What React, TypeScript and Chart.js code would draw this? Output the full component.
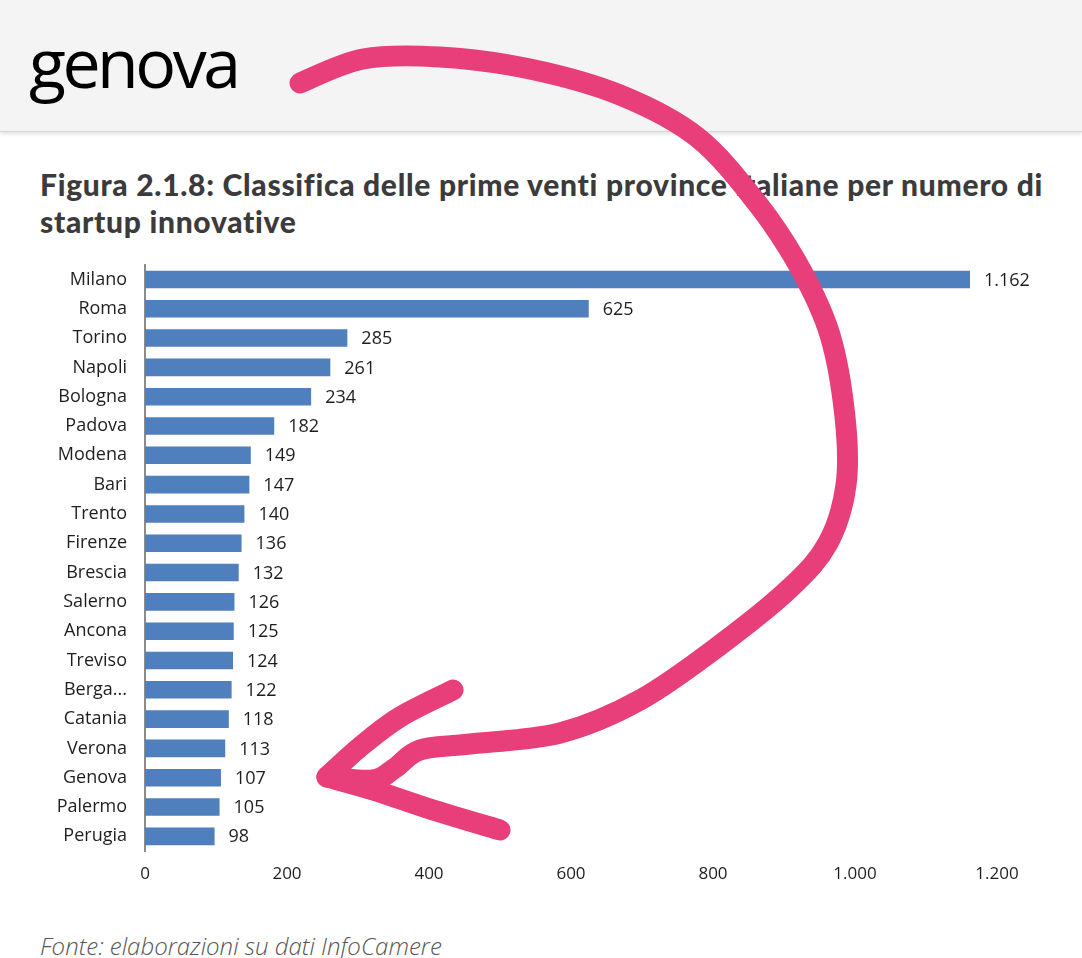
import React, { useEffect, useRef } from "react";
import { Chart, registerables } from "chart.js";

Chart.register(...registerables);

const provinces = [
  "Milano", "Roma", "Torino", "Napoli", "Bologna", "Padova", "Modena", "Bari",
  "Trento", "Firenze", "Brescia", "Salerno", "Ancona", "Treviso", "Berga...",
  "Catania", "Verona", "Genova", "Palermo", "Perugia",
];
const startups = [1162, 625, 285, 261, 234, 182, 149, 147, 140, 136, 132, 126, 125, 124, 122, 118, 113, 107, 105, 98];
const xMin = 0;
const xMax = 1200;
const xStep = 200;

const fmt = (n: number) => String(n).replace(/\B(?=(\d{3})+(?!\d))/g, ".");

// hand-drawn arrow annotation (decoration, not data)
const arrowMain: [number, number][] = [
  [300, 83], [363, 59], [440, 57], [530, 69], [620, 95], [697, 137], [757, 203],
  [800, 268], [830, 335], [845, 417], [846, 485], [828, 543], [790, 588], [720, 645],
  [640, 700], [560, 733], [470, 744], [420, 750], [395, 768], [373, 780], [327, 777],
];
const arrowUpper: [number, number][] = [[327, 777], [360, 747], [400, 717], [453, 690]];
const arrowLower: [number, number][] = [[327, 777], [373, 790], [433, 810], [500, 830]];

function smoothPath(pts: [number, number][]) {
  let d = `M${pts[0][0]},${pts[0][1]}`;
  for (let i = 0; i < pts.length - 1; i++) {
    const p0 = pts[i - 1] || pts[i];
    const p1 = pts[i];
    const p2 = pts[i + 1];
    const p3 = pts[i + 2] || p2;
    const c1x = p1[0] + (p2[0] - p0[0]) / 6;
    const c1y = p1[1] + (p2[1] - p0[1]) / 6;
    const c2x = p2[0] - (p3[0] - p1[0]) / 6;
    const c2y = p2[1] - (p3[1] - p1[1]) / 6;
    d += ` C${c1x},${c1y} ${c2x},${c2y} ${p2[0]},${p2[1]}`;
  }
  return d;
}

const valueLabels = {
  id: "valueLabels",
  afterDatasetsDraw(chart: any) {
    const ctx = chart.ctx;
    const meta = chart.getDatasetMeta(0);
    const data = chart.data.datasets[0].data as number[];
    ctx.save();
    ctx.font = "18px 'Open Sans'";
    ctx.fillStyle = "#1e1e1e";
    ctx.textAlign = "left";
    ctx.textBaseline = "middle";
    meta.data.forEach((bar: any, i: number) => {
      ctx.fillText(fmt(data[i]), bar.x + 14, bar.y + 1);
    });
    ctx.restore();
  },
};

export default function App() {
  const canvasRef = useRef<HTMLCanvasElement | null>(null);

  useEffect(() => {
    document.body.style.margin = "0";
    const chart = new Chart(canvasRef.current as HTMLCanvasElement, {
      type: "bar",
      data: {
        labels: provinces,
        datasets: [
          {
            data: startups,
            backgroundColor: "#4f7fbd",
            borderWidth: 0,
            barPercentage: 0.6,
            categoryPercentage: 1,
          },
        ],
      },
      options: {
        indexAxis: "y",
        animation: false,
        responsive: true,
        maintainAspectRatio: false,
        layout: { padding: { top: 0, right: 85, bottom: 0, left: 0 } },
        plugins: { legend: { display: false }, tooltip: { enabled: false } },
        scales: {
          x: {
            min: xMin,
            max: xMax,
            grid: { display: false, drawTicks: false },
            border: { display: false },
            ticks: {
              stepSize: xStep,
              padding: 13,
              color: "#1e1e1e",
              font: { family: "'Open Sans'", size: 17 },
              callback: (v: any) => fmt(Number(v)),
              maxRotation: 0,
            },
            afterFit: (s: any) => {
              s.height = 40;
            },
          },
          y: {
            grid: { display: false, drawTicks: false },
            border: { display: true, color: "#8c8c8c", width: 2 },
            ticks: {
              padding: 18,
              color: "#1e1e1e",
              font: { family: "'Open Sans'", size: 18 },
              autoSkip: false,
            },
            afterFit: (s: any) => {
              s.width = 145;
            },
          },
        },
      },
      plugins: [valueLabels],
    });
    return () => chart.destroy();
  }, []);

  return (
    <div style={{ position: "relative", width: 1082, height: 958, background: "#fff", overflow: "hidden" }}>
      <div
        style={{
          position: "absolute",
          left: 0,
          top: 0,
          width: 1082,
          height: 131,
          background: "#f4f4f4",
          borderBottom: "1px solid #d6d6d6",
          boxShadow: "0 2px 4px rgba(0,0,0,0.12)",
        }}
      />
      <div
        style={{
          position: "absolute",
          left: 29,
          top: 28,
          fontFamily: "'Open Sans', sans-serif",
          fontSize: 68,
          lineHeight: 1,
          letterSpacing: -3.5,
          color: "#000",
        }}
      >
        genova
      </div>
      <div
        style={{
          position: "absolute",
          left: 40,
          top: 166,
          fontFamily: "Lato, sans-serif",
          fontWeight: 900,
          fontSize: 30,
          lineHeight: "37px",
          letterSpacing: 0.7,
          color: "#3b3b3b",
          whiteSpace: "nowrap",
        }}
      >
        Figura 2.1.8: Classifica delle prime venti province italiane per numero di
        <br />
        startup innovative
      </div>
      <div style={{ position: "absolute", left: 0, top: 236, width: 1082, height: 655 }}>
        <canvas ref={canvasRef} />
      </div>
      <div
        style={{
          position: "absolute",
          left: 40,
          top: 934,
          fontFamily: "'Open Sans', sans-serif",
          fontStyle: "italic",
          fontWeight: 300,
          fontSize: 24,
          lineHeight: 1,
          color: "#555",
          whiteSpace: "nowrap",
        }}
      >
        Fonte: elaborazioni su dati InfoCamere
      </div>
      <svg
        width={1082}
        height={958}
        style={{ position: "absolute", left: 0, top: 0, pointerEvents: "none" }}
      >
        <g fill="none" stroke="#e83f7a" strokeWidth={21} strokeLinecap="round" strokeLinejoin="round">
          <path d={smoothPath(arrowMain)} />
          <path d={smoothPath(arrowUpper)} />
          <path d={smoothPath(arrowLower)} />
        </g>
      </svg>
    </div>
  );
}
